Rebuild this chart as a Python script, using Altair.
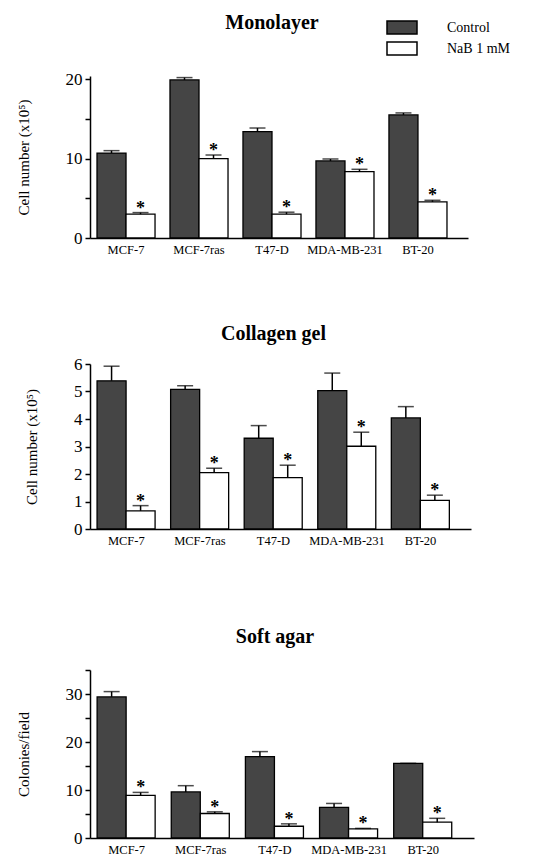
import altair as alt
import pandas as pd

# Cell lines and treatments
lines = ["MCF-7", "MCF-7ras", "T47-D", "MDA-MB-231", "BT-20"]
treatments = ["Control", "NaB 1 mM"]

# Monolayer: cell number (x10^5), mean and SEM
mono_control = [10.7, 19.9, 13.4, 9.7, 15.5]
mono_control_sem = [0.3, 0.3, 0.45, 0.25, 0.25]
mono_nab = [3.0, 10.0, 3.0, 8.35, 4.55]
mono_nab_sem = [0.2, 0.45, 0.25, 0.3, 0.2]

# Collagen gel: cell number (x10^5), mean and SEM
gel_control = [5.39, 5.08, 3.30, 5.03, 4.04]
gel_control_sem = [0.53, 0.13, 0.46, 0.64, 0.41]
gel_nab = [0.66, 2.05, 1.87, 3.01, 1.04]
gel_nab_sem = [0.19, 0.16, 0.45, 0.51, 0.19]

# Soft agar: colonies per field, mean and SEM
agar_control = [29.4, 9.6, 16.95, 6.4, 15.55]
agar_control_sem = [1.1, 1.3, 1.05, 0.8, 0.0]
agar_nab = [8.9, 5.1, 2.45, 1.9, 3.3]
agar_nab_sem = [0.6, 0.35, 0.5, 0.1, 0.8]

DARK = "#454545"
FONT = "Liberation Serif"


def make_frame(ctrl, ctrl_sem, nab, nab_sem):
    rows = []
    for i, name in enumerate(lines):
        rows.append({"line": name, "treatment": treatments[0],
                     "value": ctrl[i], "top": ctrl[i] + ctrl_sem[i]})
        rows.append({"line": name, "treatment": treatments[1],
                     "value": nab[i], "top": nab[i] + nab_sem[i]})
    return pd.DataFrame(rows)


def panel(title, title_offset, ytitle, df, domain, ticks, label_expr,
          width, height, with_legend):
    x = alt.X("line:N", sort=lines,
              scale=alt.Scale(paddingInner=0.205, paddingOuter=0.192, align=0.25),
              axis=alt.Axis(title=None, labelAngle=0, ticks=False,
                            labelFont=FONT, labelFontSize=12.5, labelColor="black",
                            labelPadding=5, domainColor="black", domainWidth=1.5))
    xo = alt.XOffset("treatment:N", sort=treatments,
                     scale=alt.Scale(paddingInner=0, paddingOuter=0))
    y_axis = alt.Axis(title=ytitle, values=ticks, labelExpr=label_expr,
                      labelOverlap=False,
                      grid=False, tickSize=5, tickWidth=1.5, tickColor="black",
                      domainColor="black", domainWidth=1.5,
                      labelFont=FONT, labelFontSize=17, labelColor="black",
                      labelPadding=3,
                      titleFont=FONT, titleFontSize=15, titleFontWeight="normal",
                      titleColor="black", titlePadding=34)
    y_scale = alt.Scale(domain=domain, nice=False, zero=True)

    def y(field):
        return alt.Y(field, type="quantitative", scale=y_scale, axis=y_axis)

    if with_legend:
        fill = alt.Fill("treatment:N",
                        scale=alt.Scale(domain=treatments, range=[DARK, "white"]),
                        legend=alt.Legend(title=None, orient="none",
                                          legendX=301, legendY=-59.5,
                                          direction="vertical", padding=0,
                                          symbolType="M-1.5,-0.65H1.5V0.65H-1.5Z",
                                          symbolSize=400, symbolStrokeColor="black",
                                          symbolStrokeWidth=1.5, symbolOpacity=1,
                                          labelFont=FONT, labelFontSize=14,
                                          labelColor="black", labelOffset=34,
                                          rowPadding=0))
    else:
        fill = alt.condition(alt.datum.treatment == "Control",
                             alt.value(DARK), alt.value("white"))

    base = alt.Chart(df)
    bars = base.mark_bar(stroke="black", strokeWidth=1.3).encode(
        x=x, xOffset=xo, y=y("value"), fill=fill)
    err = base.mark_rule(color="black", strokeWidth=1.5).encode(
        x=x, xOffset=xo, y=y("value"), y2="top:Q")
    caps = base.mark_tick(color="black", thickness=1.5, size=16).encode(
        x=x, xOffset=xo, y=y("top"))
    stars = base.transform_filter(alt.datum.treatment == treatments[1]).mark_text(
        text="*", font=FONT, fontSize=18, fontWeight="bold", color="black",
        baseline="alphabetic", dy=1).encode(x=x, xOffset=xo, y=y("top"))

    return alt.layer(bars, err, caps, stars).properties(
        width=width, height=height,
        title=alt.TitleParams(title, font=FONT, fontSize=20, fontWeight="bold",
                              color="black", anchor="middle", frame="group",
                              baseline="alphabetic", offset=title_offset, dx=-7))


mono = panel("Monolayer", 21, "Cell number (x10⁵)",
             make_frame(mono_control, mono_control_sem, mono_nab, mono_nab_sem),
             [0, 20.4], [0, 5, 10, 15, 20],
             "datum.value % 10 == 0 ? datum.label : ''", 378, 162, True)
gel = panel("Collagen gel", -5, "Cell number (x10⁵)",
            make_frame(gel_control, gel_control_sem, gel_nab, gel_nab_sem),
            [0, 6], [0, 1, 2, 3, 4, 5, 6], "datum.label", 381, 165, False)
agar = panel("Soft agar", -2, "Colonies/field",
             make_frame(agar_control, agar_control_sem, agar_nab, agar_nab_sem),
             [0, 35], [0, 5, 10, 15, 20, 25, 30, 35],
             "datum.value % 10 == 0 ? datum.label : ''", 384, 168, False)

chart = alt.vconcat(
    mono,
    alt.vconcat(gel, agar, spacing=141, bounds="flush"),
    spacing=126, bounds="flush",
).properties(
    padding={"left": 16, "top": 13, "right": 0, "bottom": 0}
).configure(
    background="white", view=alt.ViewConfig(stroke=None)
)

chart.save("out.html", embed_options={"renderer": "svg", "actions": False})
